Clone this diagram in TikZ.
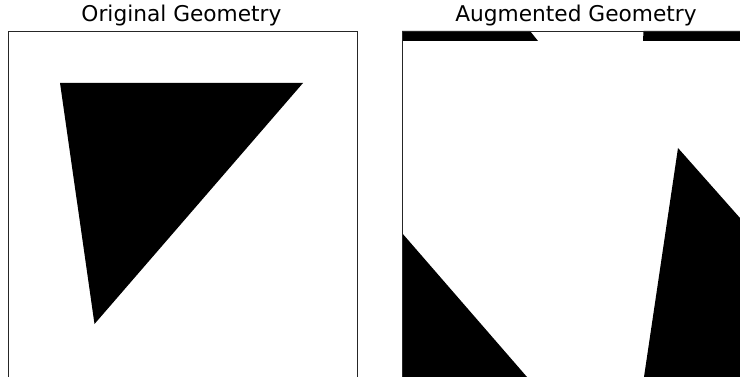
\documentclass[tikz,border=0pt]{standalone}
\usepackage{fontspec}
\setmainfont{DejaVu Sans}
\begin{document}
\begin{tikzpicture}[x=1pt,y=-1pt,
  frame/.style={draw=black!85,line width=0.8pt},
  blob/.style={fill=black},
  ttl/.style={anchor=base,inner sep=0pt,font=\fontsize{21.7}{25}\selectfont}]
\useasboundingbox (0,0) rectangle (740,377);
\clip (0,0) rectangle (740,377);
% left panel
\fill[blob] (60,83) -- (303,83) -- (94.5,324) -- cycle;
\draw[frame] (8,31) rectangle (357,380);
\node[ttl] (t1) at (181.5,21.5) {Original Geometry};
% right panel
\fill[blob] (402,31) -- (530,31) -- (538,41) -- (402,41) -- cycle;
\fill[blob] (643.5,31) -- (745,31) -- (745,41) -- (643,41) -- cycle;
\fill[blob] (402,233) -- (527,377) -- (402,377) -- cycle;
\fill[blob] (678,148) -- (740,218) -- (740,377) -- (644,377) -- cycle;
\draw[frame] (402,31) rectangle (751,380);
\node[ttl] (t2) at (576,21.5) {Augmented Geometry};
\end{tikzpicture}
\end{document}
